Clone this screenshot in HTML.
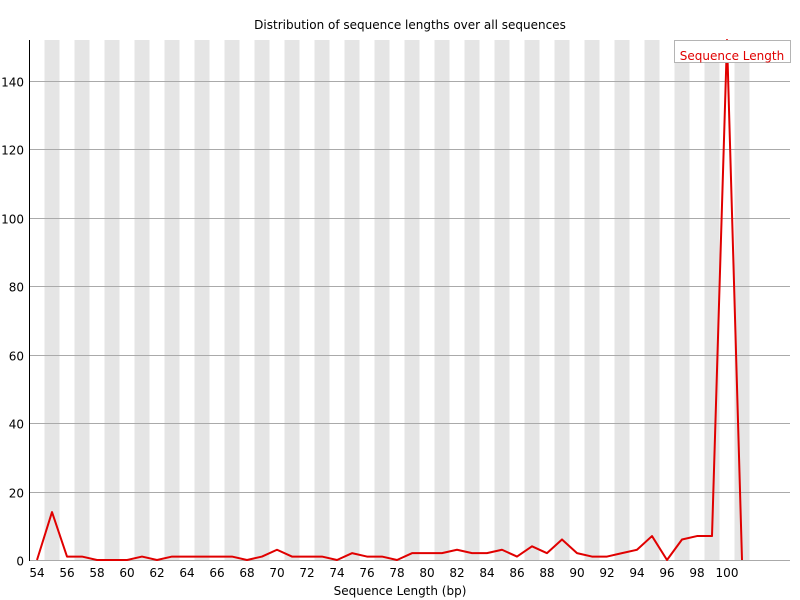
<!DOCTYPE html>
<html><head><meta charset="utf-8"><style>
body{margin:0;background:#fff;}
svg{display:block;font-family:"DejaVu Sans","Liberation Sans",sans-serif;}
</style></head><body>
<svg id="chart" width="800" height="600">
<text x="410" y="29" font-size="12" text-anchor="middle">Distribution of sequence lengths over all sequences</text>
<g id="stripes"></g><g id="grid"></g><g id="ylabels"></g><g id="xlabels"></g>
<line x1="29.5" y1="40" x2="29.5" y2="561" stroke="#000"/>
<polyline id="line" fill="none" stroke="#e00000" stroke-width="2" stroke-linejoin="round"/>
<text x="400" y="595" font-size="12" text-anchor="middle">Sequence Length (bp)</text>
<g>
<rect x="674.5" y="40.5" width="116" height="22" fill="#fff" stroke="#b4b4b4"/>
<text x="732" y="60" font-size="12" fill="#e00000" text-anchor="middle">Sequence Length</text>
</g>
</svg>
<script>
const categories=[54,55,56,57,58,59,60,61,62,63,64,65,66,67,68,69,70,71,72,73,74,75,76,77,78,79,80,81,82,83,84,85,86,87,88,89,90,91,92,93,94,95,96,97,98,99,100,101];
const counts=[0,14,1,1,0,0,0,1,0,1,1,1,1,1,0,1,3,1,1,1,0,2,1,1,0,2,2,2,3,2,2,3,1,4,2,6,2,1,1,2,3,7,0,6,7,7,152,0];
const yTicks=[0,20,40,60,80,100,120,140];
const NS="http://www.w3.org/2000/svg";
const x0=29.5,bw=15,yBase=560,yTop=40,yMax=152;
const xs=i=>x0+bw*i+bw/2;
const ys=v=>yBase-(v/yMax)*(yBase-yTop);
function mk(t,a,p){const e=document.createElementNS(NS,t);for(const k in a)e.setAttribute(k,a[k]);p.appendChild(e);return e;}
const st=document.getElementById('stripes');
categories.forEach((c,i)=>{if(i%2===1){const r=mk('rect',{x:x0+bw*i,y:yTop,width:bw,height:yBase-yTop,fill:'#e5e5e5'},st);

}});
const gr=document.getElementById('grid'),yl=document.getElementById('ylabels');
yTicks.forEach(t=>{const y=Math.round(ys(t))+0.5;const l=mk('line',{x1:29.5,x2:790,y1:y,y2:y,stroke:'#aaa'},gr);


const tx=mk('text',{x:24,y:y+5,'font-size':12,'text-anchor':'end'},yl);tx.textContent=t;

});
const xl=document.getElementById('xlabels');
categories.forEach((c,i)=>{if(c%2===0){const tx=mk('text',{x:xs(i),y:577,'font-size':12,'text-anchor':'middle'},xl);tx.textContent=c;

}});
document.getElementById('line').setAttribute('points',counts.map((v,i)=>xs(i)+','+ys(v)).join(' '));
</script>
</body></html>
